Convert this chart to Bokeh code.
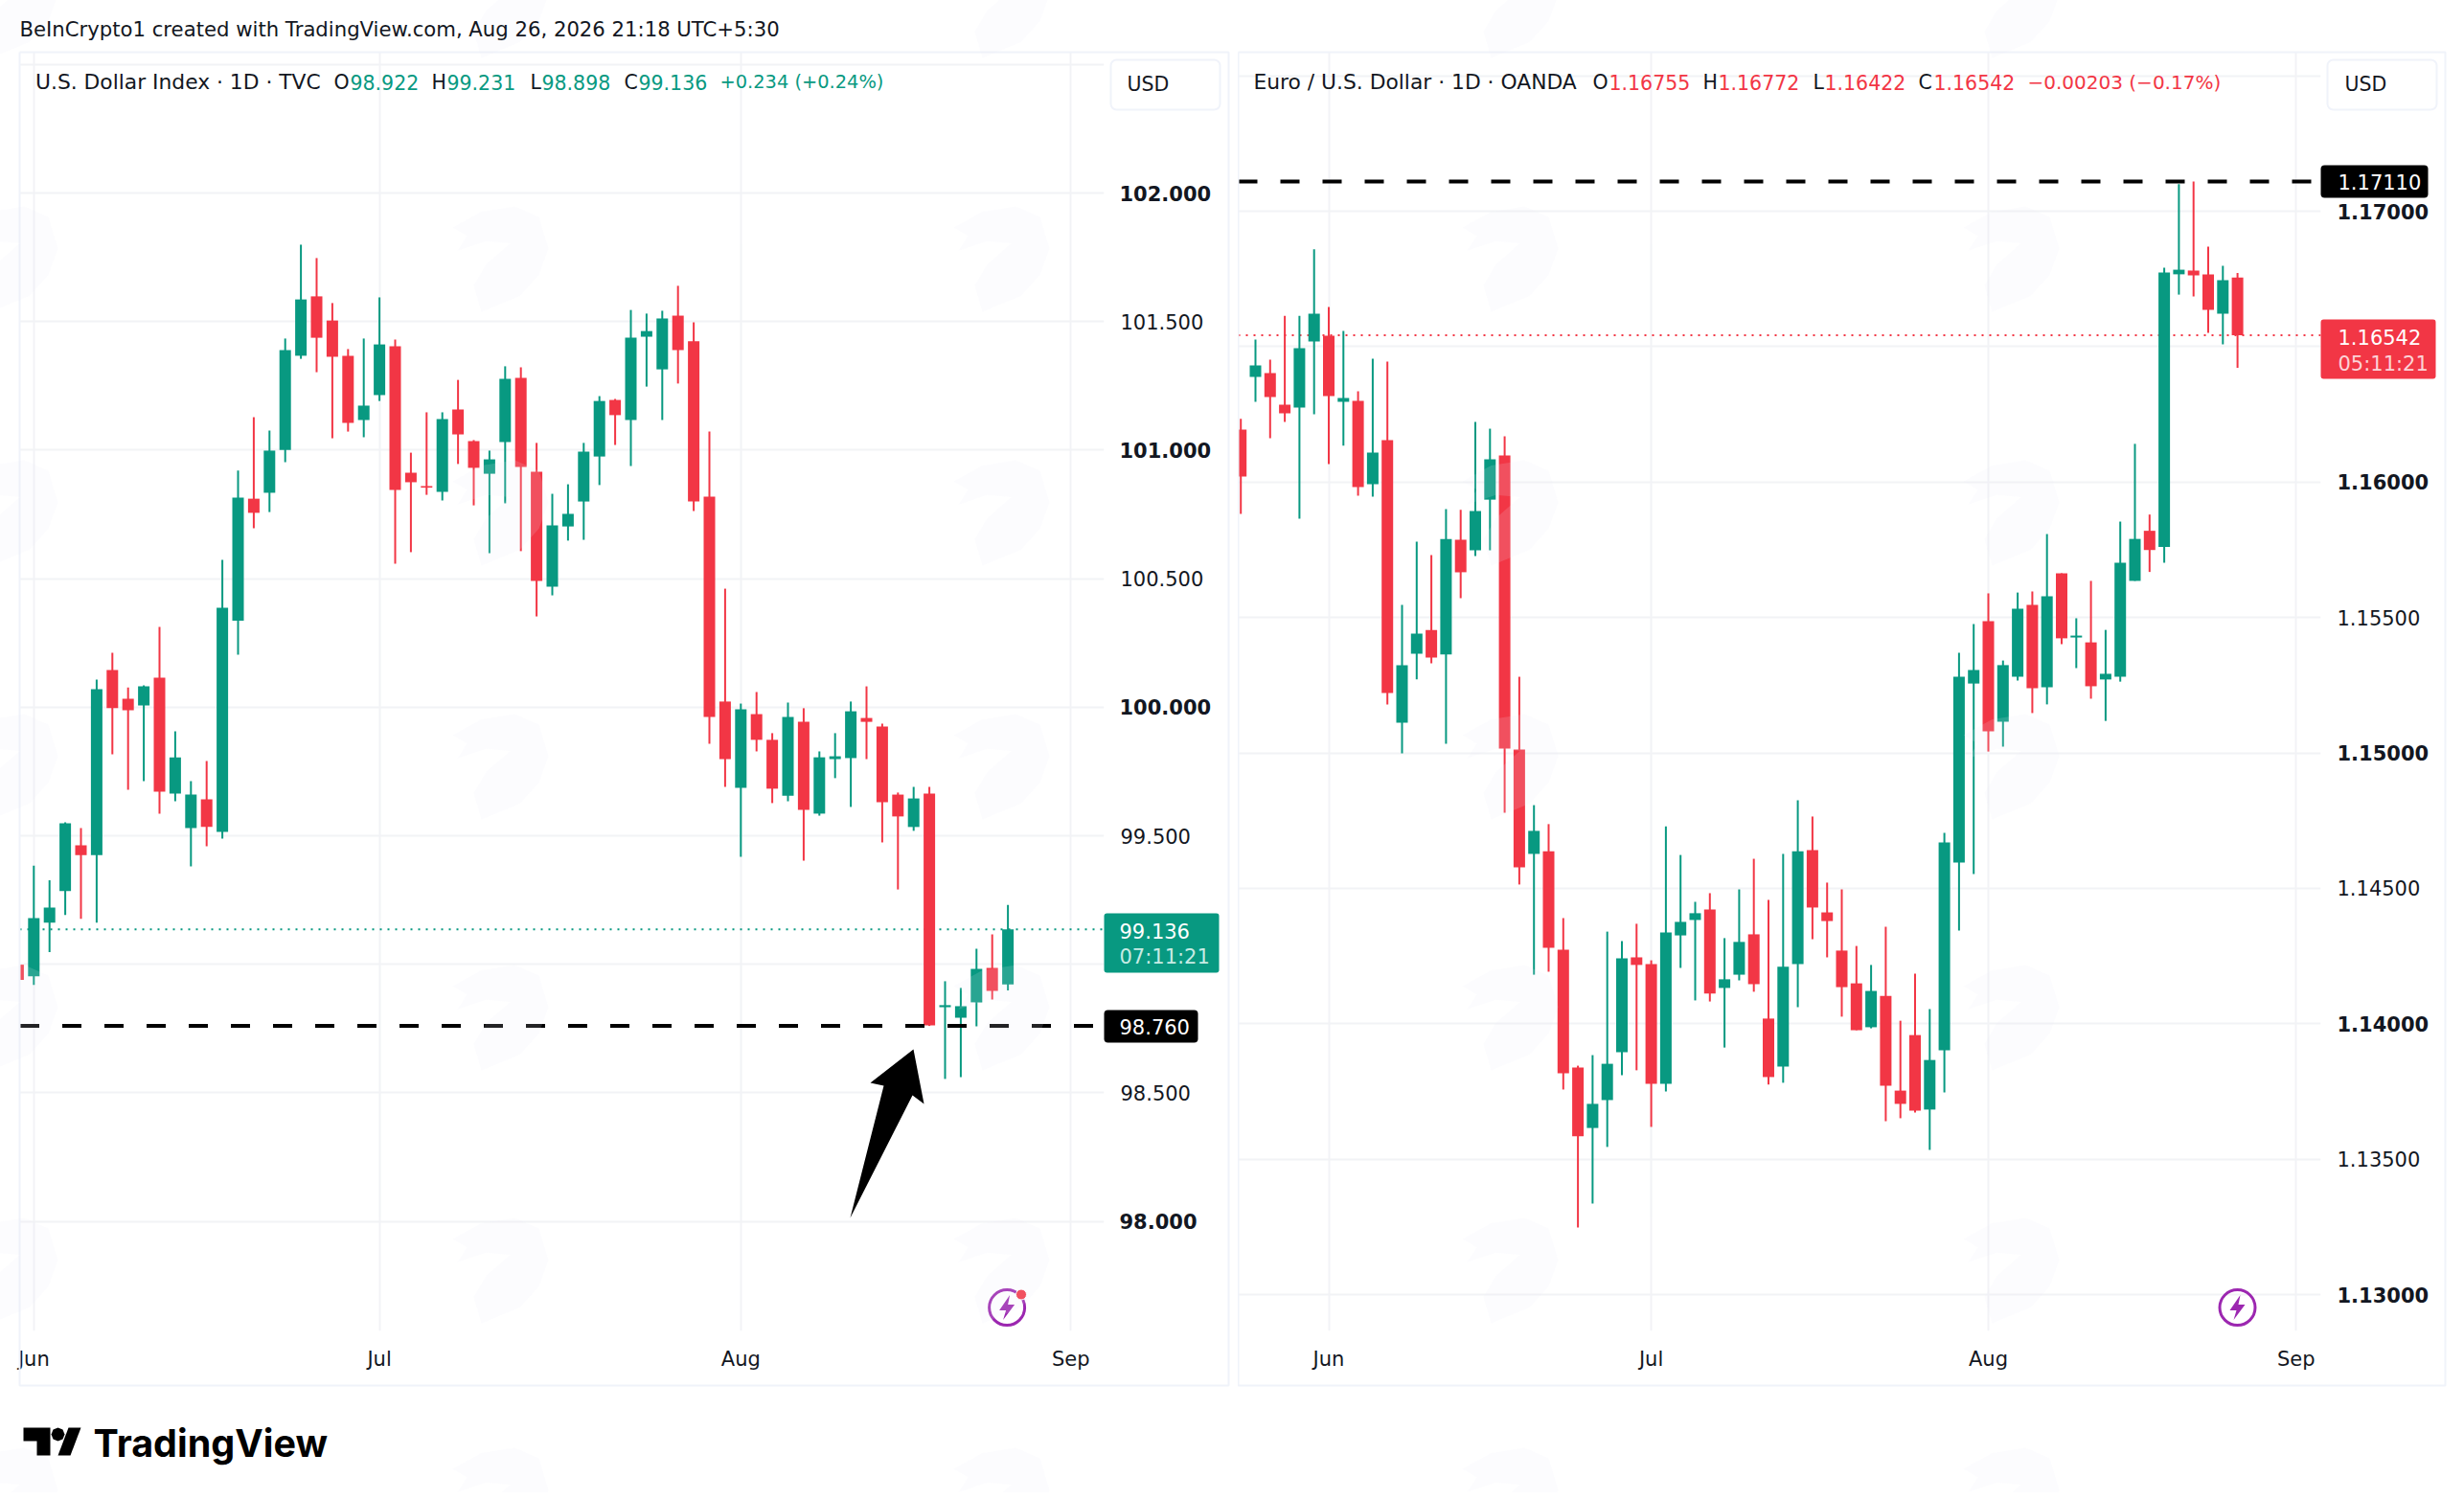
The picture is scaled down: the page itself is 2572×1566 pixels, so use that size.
from bokeh.plotting import figure
from bokeh.layouts import row
from bokeh.models import Range1d, FixedTicker
from bokeh.core.properties import value
from bokeh.embed import file_html
from bokeh.resources import INLINE

# ---- U.S. Dollar Index, daily bars; index 0 = 1 Jun, starts at index -1
dxy_open = [98.998,98.953,99.162,99.285,99.463,99.425,100.145,100.033,100.007,100.115,99.664,99.530,99.642,99.515,100.336,100.811,100.834,101.001,101.367,101.598,101.504,101.367,101.117,101.214,101.404,100.912,100.860,100.838,101.158,101.035,100.908,101.031,101.281,100.916,100.469,100.703,100.800,100.975,101.195,101.117,101.441,101.314,101.523,101.423,100.819,100.022,99.686,99.973,99.873,99.656,99.943,99.586,99.798,99.802,99.958,99.925,99.660,99.534,99.664,98.833,98.792,98.852,98.986,98.922]
dxy_high = [98.998,99.384,99.327,99.552,99.530,100.107,100.212,100.077,100.085,100.312,99.906,99.712,99.791,100.573,100.920,101.128,101.076,101.434,101.799,101.747,101.572,101.393,101.434,101.594,101.430,100.990,101.147,101.147,101.273,101.039,100.998,101.326,101.322,101.028,100.830,100.867,101.028,101.210,101.199,101.545,101.531,101.542,101.639,101.497,101.072,100.461,100.014,100.059,99.899,100.018,99.996,99.828,99.899,100.022,100.081,99.936,99.668,99.690,99.690,98.934,98.908,99.060,99.116,99.231]
dxy_low = [98.939,98.920,99.047,99.192,99.177,99.162,99.817,99.679,99.712,99.586,99.634,99.381,99.459,99.489,100.204,100.696,100.759,100.953,101.355,101.303,101.046,101.072,101.050,101.191,100.558,100.603,100.826,100.804,100.946,100.785,100.599,100.793,100.607,100.353,100.435,100.648,100.651,100.864,101.020,100.938,101.247,101.117,101.259,100.763,99.858,99.690,99.418,99.828,99.627,99.634,99.403,99.578,99.724,99.612,99.798,99.474,99.291,99.519,98.760,98.554,98.561,98.759,98.863,98.898]
dxy_close = [98.939,99.180,99.221,99.548,99.425,100.070,99.996,99.988,100.081,99.671,99.805,99.660,99.534,100.387,100.815,100.756,100.998,101.389,101.586,101.437,101.363,101.106,101.173,101.411,100.845,100.875,100.854,101.121,101.061,100.931,100.964,101.277,100.934,100.491,100.707,100.752,100.994,101.191,101.136,101.437,101.463,101.512,101.389,100.800,99.962,99.798,99.992,99.873,99.683,99.962,99.601,99.805,99.809,99.984,99.943,99.630,99.575,99.645,98.762,98.841,98.837,98.982,98.896,99.136]

# ---- Euro / U.S. Dollar, daily bars; index 0 = 1 Jun, starts at index -6
eur_open = [1.16194,1.16388,1.16402,1.16286,1.16275,1.16519,1.16540,1.16296,1.16300,1.15992,1.16155,1.15111,1.15366,1.15454,1.15363,1.15787,1.15748,1.15935,1.16098,1.15012,1.14627,1.14637,1.14273,1.13838,1.13615,1.13718,1.13895,1.14245,1.14220,1.13778,1.14326,1.14383,1.14422,1.14132,1.14181,1.14330,1.14019,1.13842,1.14220,1.14641,1.14411,1.14270,1.14149,1.13987,1.14103,1.13753,1.13958,1.13683,1.13902,1.14595,1.15256,1.15486,1.15115,1.15281,1.15546,1.15242,1.15663,1.15426,1.15408,1.15271,1.15281,1.15635,1.15820,1.15760,1.16767,1.16781,1.16767,1.16622,1.16755]
eur_high = [1.16233,1.16526,1.16452,1.16614,1.16614,1.16859,1.16646,1.16558,1.16335,1.16455,1.16445,1.15546,1.15780,1.15730,1.15900,1.15897,1.16222,1.16197,1.16169,1.15281,1.14807,1.14737,1.14390,1.13845,1.13884,1.14340,1.14305,1.14369,1.14234,1.14729,1.14623,1.14450,1.14482,1.14316,1.14496,1.14609,1.14457,1.14627,1.14825,1.14765,1.14521,1.14496,1.14287,1.14217,1.14358,1.14011,1.14185,1.14054,1.14705,1.15370,1.15476,1.15589,1.15341,1.15592,1.15596,1.15808,1.15663,1.15497,1.15635,1.15454,1.15854,1.16141,1.15880,1.16791,1.17100,1.17110,1.16869,1.16798,1.16772]
eur_low = [1.15882,1.16296,1.16162,1.16222,1.15865,1.16250,1.16066,1.16134,1.15950,1.15946,1.15179,1.14998,1.15271,1.15331,1.15034,1.15571,1.15727,1.15748,1.14779,1.14514,1.14181,1.14192,1.13757,1.13248,1.13336,1.13545,1.13810,1.13828,1.13619,1.13750,1.14206,1.14086,1.14082,1.13912,1.14160,1.14118,1.13775,1.13782,1.14061,1.14312,1.14245,1.14026,1.13976,1.13983,1.13640,1.13651,1.13672,1.13534,1.13746,1.14344,1.14553,1.15005,1.15023,1.15267,1.15147,1.15179,1.15401,1.15313,1.15200,1.15118,1.15263,1.15635,1.15668,1.15702,1.16692,1.16685,1.16551,1.16508,1.16422]
eur_close = [1.16020,1.16431,1.16314,1.16254,1.16494,1.16622,1.16317,1.16310,1.15981,1.16109,1.15221,1.15324,1.15440,1.15352,1.15790,1.15667,1.15893,1.16084,1.15016,1.14577,1.14712,1.14280,1.13817,1.13584,1.13704,1.13852,1.14241,1.14217,1.13778,1.14337,1.14376,1.14408,1.14111,1.14164,1.14302,1.14146,1.13803,1.14210,1.14637,1.14429,1.14379,1.14135,1.13976,1.14121,1.13771,1.13704,1.13679,1.13866,1.14669,1.15281,1.15306,1.15080,1.15324,1.15532,1.15239,1.15578,1.15423,1.15433,1.15246,1.15292,1.15702,1.15790,1.15749,1.16774,1.16784,1.16763,1.16636,1.16745,1.16542]

month_bars = [0, 22, 45, 66]
month_names = ["Jun", "Jul", "Aug", "Sep"]
dxy_ticks = [98.0, 98.5, 99.0, 99.5, 100.0, 100.5, 101.0, 101.5, 102.0, 102.5]
dxy_major = [98.0, 100.0, 101.0, 102.0]
eur_ticks = [1.13, 1.135, 1.14, 1.145, 1.15, 1.155, 1.16, 1.165, 1.17, 1.175]
eur_major = [1.13, 1.14, 1.15, 1.16, 1.17]

GREEN, RED, INK, GRID, FONT = "#089981", "#F23645", "#131722", "#f2f3f6", "DejaVu Sans"
PURPLE = "#9c27b0"
TICK_PX, HEAD_PX, TITLE_PX = "21px", "20.5px", "21.8px"
WM_XS = [10, 522, 1045, 1576, 2099]
WM_YS = [5, 270, 535, 800, 1062, 1326, 1566]
WM_SHAPE = [(0,.2),(.3,.05),(.65,0),(.9,.1),(1,.4),(.9,.65),(.7,.85),(.3,1),(.22,.75),(.35,.55),(.6,.35),(.35,.33),(.05,.42),(.15,.28)]
HEIGHT = 1558


class Panel:
    def __init__(self, width, x0, fl, fr, ticks, major, fmt, fx, fy):
        self.fx, self.fy = fx, fy
        p = figure(width=width, height=HEIGHT, x_range=Range1d(fx(fl), fx(fr)), y_range=Range1d(fy(1389), fy(54)),
                   y_axis_location="right", toolbar_location=None, output_backend="svg",
                   min_border_left=fl - x0, min_border_right=x0 + width - fr,
                   min_border_top=54, min_border_bottom=HEIGHT - 1389, outline_line_color=None,
                   background_fill_color="white", border_fill_color="white")
        self.p = p
        for ax in (p.xaxis[0], p.yaxis[0]):
            ax.axis_line_color = None
            ax.major_tick_line_color = None
            ax.minor_tick_line_color = None
            ax.major_tick_out = 0
            ax.major_tick_in = 0
            ax.major_label_text_font = FONT
            ax.major_label_text_font_size = TICK_PX
            ax.major_label_text_color = INK
        p.xaxis[0].ticker = FixedTicker(ticks=month_bars)
        p.xaxis[0].major_label_overrides = {b: n for b, n in zip(month_bars, month_names)}
        p.xaxis[0].major_label_standoff = 17
        p.yaxis[0].ticker = FixedTicker(ticks=ticks)
        p.yaxis[0].major_label_overrides = {t: ("" if t in major or t == ticks[-1] else fmt % t) for t in ticks}
        p.yaxis[0].major_label_standoff = 17
        p.xgrid[0].grid_line_color = GRID
        p.ygrid[0].grid_line_color = GRID
        p.xgrid[0].grid_line_width = 2
        p.ygrid[0].grid_line_width = 2

    def candles(self, start, o, h, l, c, bw):
        idx = list(range(start, start + len(o)))
        for col, test in ((GREEN, lambda a, b: b >= a), (RED, lambda a, b: b < a)):
            keep = [i for i in range(len(o)) if test(o[i], c[i])]
            x = [idx[i] for i in keep]
            self.p.segment(x, [h[i] for i in keep], x, [l[i] for i in keep], line_color=col, line_width=2)
            self.p.vbar(x, bw, [o[i] for i in keep], [c[i] for i in keep], fill_color=col, line_color=None)

    def text(self, px, py, s, col=INK, size=HEAD_PX, style="normal", font=FONT):
        self.p.text([self.fx(px)], [self.fy(py)], text=[s], text_color=col, text_font_size=size, text_font=value(font),
                    text_font_style=style, text_align="left", text_baseline="middle", level="overlay")

    def price_text(self, px, price, s, size=TICK_PX, style="bold"):
        self.p.text([self.fx(px)], [price], text=[s], text_color=INK, text_font_size=size, text_font=value(FONT),
                    text_font_style=style, text_align="left", text_baseline="middle", level="overlay")

    def box(self, l, r, t, b, fill="white", line=None, lw=1, radius=0):
        self.p.quad(left=[self.fx(l)], right=[self.fx(r)], top=[self.fy(t)], bottom=[self.fy(b)], fill_color=fill,
                    line_color=line, line_width=lw, border_radius=radius, level="overlay")

    def frame(self, l, r, t, b):
        xs = [self.fx(v) for v in (l, r, r, l, l)]
        ys = [self.fy(v) for v in (t, t, b, b, t)]
        self.p.line(xs, ys, line_color="#f0f3fa", line_width=2, level="overlay")

    def poly(self, pts, fill, alpha=1.0):
        self.p.patch([self.fx(a) for a, _ in pts], [self.fy(b) for _, b in pts], fill_color=fill, fill_alpha=alpha,
                     line_color=None, level="overlay")

    def watermarks(self, cols):
        for cx in cols:
            for cy in WM_YS:
                self.poly([(cx + (a - .5) * 100, cy + (b - .5) * 110) for a, b in WM_SHAPE], "#e9edfa", .15)

    def bolt(self, cx, cy):
        self.p.scatter([self.fx(cx)], [self.fy(cy)], size=37, marker="circle", fill_color=None, line_color=PURPLE, line_width=3)
        self.p.patch([self.fx(cx + a) for a in (3, -8, -1, -4, 8, 1)], [self.fy(cy + b) for b in (-13, 3, 3, 13, -3, -3)],
                     fill_color=PURPLE, line_color=None)


# ---------- left panel
lx = lambda px: (px - 34.8) / 16.4
ly = lambda py: 102 - (py - 201) / 268.4
L = Panel(1292, 0, 20, 1152, dxy_ticks, dxy_major, "%.3f", lx, ly)
L.frame(20, 1282, 54, 1446)
L.p.line([lx(20), lx(1152)], [99.136, 99.136], line_color=GREEN, line_width=2, line_dash="2 6")
L.candles(-1, dxy_open, dxy_high, dxy_low, dxy_close, 12 / 16.4)
L.p.line([lx(20.5), lx(1152)], [98.76, 98.76], line_color="black", line_width=4, line_dash="20 24")
arrow_px = [(953, 1095), (964, 1152), (952, 1143), (887, 1271), (922, 1133), (908, 1130)]
L.poly(arrow_px, "black")
L.bolt(1050.6, 1364.6)
L.p.scatter([lx(1065.5)], [ly(1351)], size=11, marker="circle", fill_color=RED, line_color="white", line_width=1)
L.watermarks(WM_XS[:3])
for t in dxy_major:
    L.price_text(1168, t, "%.3f" % t)
L.box(1152, 1272, 953, 1015, fill=GREEN, radius=3)
L.box(1152, 1250, 1054, 1088, fill="black", radius=4)
L.box(1159, 1273, 62, 114, fill="white", line="#f0f3fa", lw=2, radius=6)
L.text(1176, 87, "USD")
L.text(1168, 971, "99.136", "white", TICK_PX)
L.text(1168, 998, "07:11:21", "#c7ebe4", TICK_PX)
L.text(1168, 1071, "98.760", "white", TICK_PX)
L.text(20, 30, "BeInCrypto1 created with TradingView.com, Aug 26, 2026 21:18 UTC+5:30", INK, "21.2px")
for x, s, col, sz in [(36.5, "U.S. Dollar Index · 1D · TVC", INK, TITLE_PX), (348, "O", INK, HEAD_PX), (365, "98.922", GREEN, HEAD_PX),
                      (450, "H", INK, HEAD_PX), (466, "99.231", GREEN, HEAD_PX), (553, "L", INK, HEAD_PX),
                      (565, "98.898", GREEN, HEAD_PX), (651, "C", INK, HEAD_PX), (666, "99.136", GREEN, HEAD_PX),
                      (751, "+0.234 (+0.24%)", GREEN, "19.4px")]:
    L.text(x, 85, s, col, sz)
# TradingView wordmark
L.poly([(24, 1490), (52, 1490), (52, 1519), (38, 1519), (38, 1504), (24, 1504)], "black")
L.poly([(71, 1490), (84, 1490), (73, 1519), (60, 1519)], "black")
L.poly([(60, 1490), (65, 1492), (67, 1497), (65, 1502), (60, 1504), (55, 1502), (53, 1497), (55, 1492)], "black")
L.text(97, 1506, "TradingView", "black", "39.5px", "bold", "Inter")

# ---------- right panel
rx = lambda px: (px - 1386.5) / 15.3
ry = lambda py: 1.17 - (py - 220) / 28275
R = Panel(1264, 1292, 1292, 2422, eur_ticks, eur_major, "%.5f", rx, ry)
R.frame(1292, 2552, 54, 1446)
R.p.line([rx(1292), rx(2422)], [1.16542, 1.16542], line_color=RED, line_width=2, line_dash="2 6")
R.candles(-6, eur_open, eur_high, eur_low, eur_close, 12 / 15.3)
R.p.line([rx(1292), rx(2422)], [1.1711, 1.1711], line_color="black", line_width=4, line_dash="20 24")
R.bolt(2335, 1364.6)
R.watermarks(WM_XS[3:])
for t in eur_major:
    R.price_text(2439, t, "%.5f" % t)
R.box(2422, 2542, 333, 395, fill=RED, radius=3)
R.box(2422, 2534, 172, 206, fill="black", radius=4)
R.box(2429, 2543, 62, 114, fill="white", line="#f0f3fa", lw=2, radius=6)
R.text(2447, 87, "USD")
R.text(2440, 351, "1.16542", "white", TICK_PX)
R.text(2440, 379, "05:11:21", "#fcd2d6", TICK_PX)
R.text(2440, 189, "1.17110", "white", TICK_PX)
for x, s, col, sz in [(1308, "Euro / U.S. Dollar · 1D · OANDA", INK, TITLE_PX), (1662, "O", INK, HEAD_PX), (1679, "1.16755", RED, HEAD_PX),
                      (1777, "H", INK, HEAD_PX), (1793, "1.16772", RED, HEAD_PX), (1892, "L", INK, HEAD_PX),
                      (1904, "1.16422", RED, HEAD_PX), (2002, "C", INK, HEAD_PX), (2018, "1.16542", RED, HEAD_PX),
                      (2116, "−0.00203 (−0.17%)", RED, "20px")]:
    R.text(x, 85, s, col, sz)

page = row(L.p, R.p, spacing=0)
open("out.html", "w").write(file_html(page, INLINE))
